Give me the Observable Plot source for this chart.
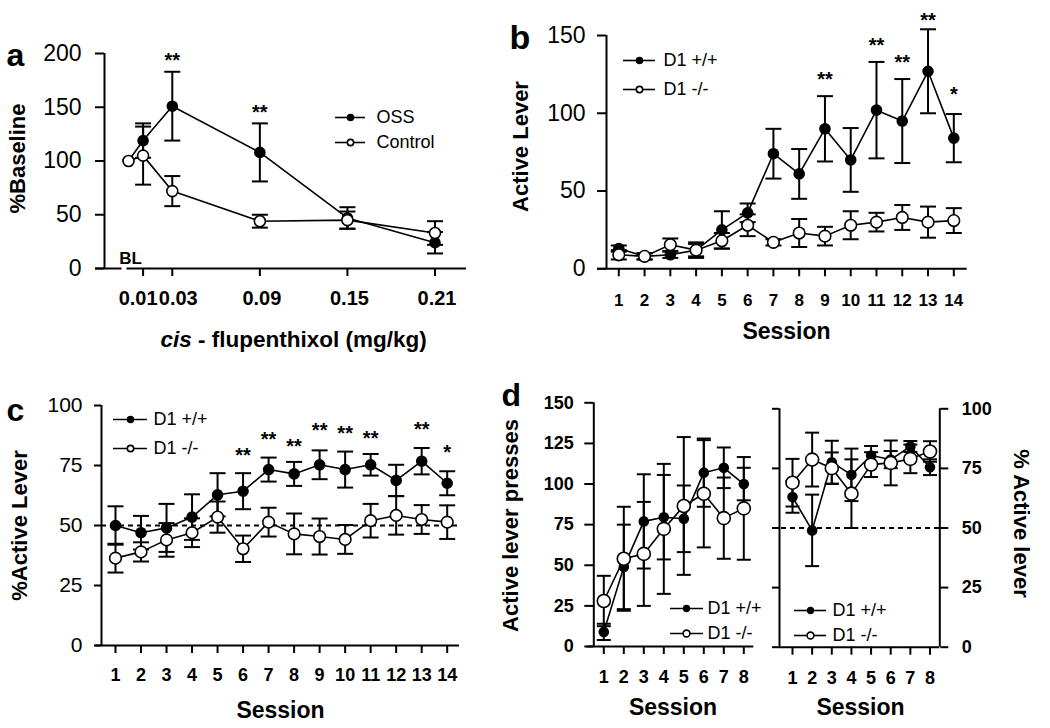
<!DOCTYPE html>
<html><head><meta charset="utf-8">
<script src="https://cdn.jsdelivr.net/npm/d3@7"></script>
<script src="https://cdn.jsdelivr.net/npm/@observablehq/plot@0.6"></script>
<style>
html,body{margin:0;padding:0;background:#fff;}
#fig{position:relative;width:1050px;height:728px;overflow:hidden;background:#fff;}
#fig svg{position:absolute;left:0;top:0;}
</style></head><body><div id="fig"></div>
<script>
// ---------------- data ----------------
// panel a
const doseA = [0, 0.01, 0.03, 0.09, 0.15, 0.21];
const doseTicksA = [0.01, 0.03, 0.09, 0.15, 0.21];
const ossA = [100, 119, 151, 108, 47, 24];
const ossSemA = [0, 16, 32, 27, 10, 10];
const ctrlA = [100, 105, 72, 44, 45, 33];
const ctrlSemA = [0, 27, 14, 6, 8, 11];
const legendA = ["OSS", "Control"];
const starXA = [0.03, 0.09];
const starYA = [198, 150];
const starTextA = ["**", "**"];
const yTicksA = [0, 50, 100, 150, 200];

// panel b
const session14 = [1, 2, 3, 4, 5, 6, 7, 8, 9, 10, 11, 12, 13, 14];
const wtB = [13, 8, 9, 12, 25, 36, 74, 61, 90, 70, 102, 95, 127, 84];
const wtSemB = [2, 2, 2, 5, 12, 6, 16, 16, 21, 20.5, 31, 27, 27, 15.5];
const koB = [9, 8, 15.5, 12, 18, 28, 17, 23, 21, 28, 30, 33, 30, 31];
const koSemB = [3, 2, 4, 4, 5, 7, 2, 9, 6, 9, 6, 8, 10, 8];
const starXB = [9, 11, 12, 13, 14];
const starYB = [125, 147, 136, 163, 115];
const starTextB = ["**", "**", "**", "**", "*"];
const yTicksB = [0, 50, 100, 150];

// panel c
const wtC = [50, 47, 49, 53.5, 62.8, 64.3, 73.3, 71.5, 75.3, 73.3, 75.3, 68.8, 76.8, 67.6];
const wtSemC = [8, 7, 10, 9.5, 9, 7.5, 5, 5, 6, 7.5, 4.5, 6.5, 5.5, 5];
const koC = [36.4, 39, 44, 47, 53.5, 40.3, 51.4, 46.5, 45.4, 44.2, 52, 54.2, 52.5, 51.4];
const koSemC = [6, 4, 7, 6, 6.5, 5.5, 6, 8.5, 7.5, 6, 7, 8, 6, 7];
const starXC = [6, 7, 8, 9, 10, 11, 13, 14];
const starYC = [81.3, 87.8, 85, 91.7, 90.3, 88.2, 92.1, 82.6];
const starTextC = ["**", "**", "**", "**", "**", "**", "**", "*"];
const yTicksC = [0, 25, 50, 75, 100];
const chanceC = 50;

// panel d
const session8 = [1, 2, 3, 4, 5, 6, 7, 8];
const wtDL = [9, 49, 77, 79.6, 78.6, 107, 110, 100];
const wtSemDL = [5, 26, 29, 26, 20.5, 21, 12.5, 10];
const koDL = [28, 54, 57, 72.4, 86.5, 94, 79, 85];
const koSemDL = [15.5, 32, 32, 40, 42.4, 33, 25, 31.6];
const yTicksDL = [0, 25, 50, 75, 100, 125, 150];
const wtDR = [63, 49, 77.6, 72.3, 80.4, 78.7, 84.2, 75.5];
const wtSemDR = [6.6, 15, 9, 11, 4, 3.6, 2.3, 3.3];
const koDR = [69, 78.7, 75.1, 64.4, 76.6, 77.3, 79, 82.1];
const koSemDR = [10, 11.3, 6.6, 14.4, 5.2, 9.4, 6, 4.3];
const yTicksDR = [0, 25, 50, 75, 100];
const chanceDR = 50;
const legendGeno = ["D1 +/+", "D1 -/-"];

// ---------------- drawing ----------------
const W = 1050, H = 728;
const FONT = '"Liberation Sans", Arial, Helvetica, sans-serif';
const capSymbol = {draw(ctx, size) { const w = Math.sqrt(size / Math.PI); ctx.moveTo(-w, 0); ctx.lineTo(w, 0); }};

function rowsOf(xs, mean, sem) { return xs.map((x, i) => ({x, y: mean[i], e: sem[i]})); }
function starsOf(xs, ys, labels) { return xs.map((x, i) => ({x, y: ys[i], label: labels[i]})); }

function buildPanel(p) {
  const sx = d3.scaleLinear(p.xDomain, p.xRange);
  const sy = d3.scaleLinear(p.yDomain, p.yRange);
  const ix = v => sx.invert(v), iy = v => sy.invert(v);
  const marks = [];
  const k = {stroke: "black"};
  const fmt = p.xFormat || (d => String(d));
  // axis lines
  for (const [a, b] of p.xLine) marks.push(Plot.ruleY([p.yDomain[0]], {x1: ix(a), x2: ix(b), ...k, strokeWidth: 2}));
  for (const ax of p.yLines) marks.push(Plot.ruleX([ix(ax)], {y1: p.yDomain[0], y2: p.yDomain[1], ...k, strokeWidth: 2}));
  if (p.dashed) marks.push(Plot.ruleY([p.dashed.value], {x1: ix(p.dashed.from), x2: ix(p.dashed.to), ...k, strokeWidth: 2, strokeDasharray: "5,4"}));
  // axes
  if (p.xLabelDx) {
    marks.push(Plot.axisX({ticks: p.xTicks, tickSize: 8, tickFormat: () => "", label: null, strokeWidth: 2}));
    p.xTicks.forEach((t, i) => marks.push(Plot.text([t], {x: d => d, y: iy(p.xLabelTop), text: d => fmt(d),
      dx: p.xLabelDx[i], lineAnchor: "top", fontSize: p.xFont, fontWeight: "bold"})));
  } else {
    marks.push(Plot.axisX({ticks: p.xTicks, tickSize: 8, tickPadding: p.xPad, tickFormat: fmt,
      fontSize: p.xFont, fontWeight: "bold", label: null, strokeWidth: 2}));
  }
  for (const ya of p.yAxes) marks.push(Plot.axisY({anchor: ya.anchor, ticks: ya.ticks, tickSize: ya.tickSize, tickPadding: ya.pad,
    tickFormat: ya.noText ? (() => "") : (d => String(d)), fontSize: ya.font, fontWeight: ya.weight, label: null, strokeWidth: 2}));
  // series
  const ser = p.series.map(s => ({...s, rows: rowsOf(s.xs, s.mean, s.sem)}));
  for (const s of ser) marks.push(Plot.line(s.rows, {x: "x", y: "y", ...k, strokeWidth: 1.6}));
  for (const s of ser) {
    const er = s.rows.filter(d => d.e > 0);
    marks.push(Plot.ruleX(er, {x: "x", y1: d => d.y - d.e, y2: d => d.y + d.e, ...k, strokeWidth: 2}));
    marks.push(Plot.dot(er, {x: "x", y: d => d.y + d.e, symbol: capSymbol, r: p.cap, ...k, fill: "none", strokeWidth: 2}));
    marks.push(Plot.dot(er, {x: "x", y: d => d.y - d.e, symbol: capSymbol, r: p.cap, ...k, fill: "none", strokeWidth: 2}));
  }
  for (const s of [...ser].sort((a, b) => (b.filled ? 1 : 0) - (a.filled ? 1 : 0)))
    marks.push(Plot.dot(s.rows, {x: "x", y: "y", r: s.filled ? p.rF : p.rO, fill: s.filled ? "black" : "white", ...k, strokeWidth: 1.6}));
  // stars
  if (p.stars) marks.push(Plot.text(p.stars, {x: "x", y: "y", text: "label", fontSize: 20, fontWeight: "bold", dy: 5}));
  // legend
  if (p.legend) {
    const L = p.legend;
    const lrows = L.labels.map((label, i) => ({label, y: iy(L.rows[i]), filled: i === 0}));
    marks.push(Plot.ruleY(lrows, {y: "y", x1: ix(L.line[0]), x2: ix(L.line[1]), ...k, strokeWidth: 1.6}));
    marks.push(Plot.dot(lrows, {x: ix(L.marker), y: "y", r: d => d.filled ? p.rF : p.rO, fill: d => d.filled ? "black" : "white", ...k, strokeWidth: 1.6}));
    marks.push(Plot.text(lrows, {x: ix(L.text), y: "y", text: "label", textAnchor: "start", fontSize: 18}));
  }
  // titles and panel letter
  for (const t of p.texts) marks.push(Plot.text([t], {x: ix(t.x), y: iy(t.y), text: d => d.text, rotate: t.rotate || 0,
    textAnchor: t.anchor || "middle", fontSize: t.size, fontWeight: "bold", fontStyle: t.italic ? "italic" : "normal"}));

  return Plot.plot({
    width: W, height: H,
    marginLeft: p.leftPx, marginRight: W - p.rightPx, marginTop: 20, marginBottom: H - p.bottomPx,
    x: {type: "linear", domain: p.xDomain, range: p.xRange},
    y: {type: "linear", domain: p.yDomain, range: p.yRange},
    style: {background: "transparent", overflow: "visible", fontFamily: FONT, color: "black"},
    marks
  });
}

// text drawn with middle line anchor: centre = baseline - 0.32em
const mid = (baseline, size) => baseline - 0.32 * size;

const panels = [
  { // a
    xDomain: [0, 0.21], xRange: [128, 434.5], yDomain: [0, 200], yRange: [268, 53],
    leftPx: 104, rightPx: 466, bottomPx: 268,
    xLine: [[95, 121.5], [126.5, 466]], yLines: [104],
    xTicks: doseTicksA, xFont: 20, xFormat: d3.format(".2f"),
    xLabelDx: [-5, 6, 2, 2, 2], xLabelTop: 290,
    yAxes: [{anchor: "left", ticks: yTicksA, tickSize: 9, pad: 14, font: 23, weight: "normal"}],
    series: [{xs: doseA, mean: ctrlA, sem: ctrlSemA, filled: false}, {xs: doseA, mean: ossA, sem: ossSemA, filled: true}],
    rF: 5, rO: 5.5, cap: 8,
    stars: starsOf(starXA, starYA, starTextA),
    legend: {labels: legendA, rows: [117, 142], line: [335, 365], marker: 350, text: 376},
    texts: [
      {text: "%Baseline", x: 17, y: 158, rotate: -90, size: 22},
      {text: "cis", x: 160, y: mid(346, 22.5), size: 22.5, anchor: "start", italic: true},
      {text: " - flupenthixol (mg/kg)", x: 191.3, y: mid(346, 22.5), size: 22.5, anchor: "start"},
      {text: "BL", x: 130, y: mid(263, 17), size: 17},
      {text: "a", x: 6, y: mid(65, 32), size: 32, anchor: "start"}
    ]
  },
  { // b
    xDomain: [1, 14], xRange: [618.3, 953.3], yDomain: [0, 150], yRange: [268.3, 35],
    leftPx: 606, rightPx: 967, bottomPx: 268.3,
    xLine: [[597, 966.7]], yLines: [606],
    xTicks: session14, xPad: 17, xFont: 17,
    yAxes: [{anchor: "left", ticks: yTicksB, tickSize: 9, pad: 12, font: 23, weight: "normal"}],
    series: [{xs: session14, mean: koB, sem: koSemB, filled: false}, {xs: session14, mean: wtB, sem: wtSemB, filled: true}],
    rF: 5, rO: 5.8, cap: 8,
    stars: starsOf(starXB, starYB, starTextB),
    legend: {labels: legendGeno, rows: [60, 89], line: [623, 655], marker: 639, text: 663},
    texts: [
      {text: "Active Lever", x: 520, y: 146, rotate: -90, size: 22},
      {text: "Session", x: 786, y: mid(338, 23), size: 23},
      {text: "b", x: 509, y: mid(48, 34), size: 34, anchor: "start"}
    ]
  },
  { // c
    xDomain: [1, 14], xRange: [115, 446.7], yDomain: [0, 100], yRange: [645, 405],
    leftPx: 101, rightPx: 459, bottomPx: 645,
    xLine: [[95, 459]], yLines: [101],
    dashed: {value: chanceC, from: 101, to: 459},
    xTicks: session14, xPad: 15, xFont: 18,
    yAxes: [{anchor: "left", ticks: yTicksC, tickSize: 7, pad: 12, font: 21, weight: "normal"}],
    series: [{xs: session14, mean: koC, sem: koSemC, filled: false}, {xs: session14, mean: wtC, sem: wtSemC, filled: true}],
    rF: 5, rO: 5.8, cap: 8,
    stars: starsOf(starXC, starYC, starTextC),
    legend: {labels: legendGeno, rows: [419, 448], line: [113, 147], marker: 130, text: 153},
    texts: [
      {text: "%Active Lever", x: 19, y: 525, rotate: -90, size: 22},
      {text: "Session", x: 280, y: mid(717, 23), size: 23},
      {text: "c", x: 6, y: mid(420, 32), size: 32, anchor: "start"}
    ]
  },
  { // d left
    xDomain: [1, 8], xRange: [603.3, 743.3], yDomain: [0, 150], yRange: [646, 402.3],
    leftPx: 593.3, rightPx: 753.3, bottomPx: 646,
    xLine: [[586.7, 753.3]], yLines: [593.3],
    xTicks: session8, xPad: 16, xFont: 18,
    yAxes: [{anchor: "left", ticks: yTicksDL, tickSize: 9, pad: 11, font: 18, weight: "bold"}],
    series: [{xs: session8, mean: koDL, sem: koSemDL, filled: false}, {xs: session8, mean: wtDL, sem: wtSemDL, filled: true}],
    rF: 4.5, rO: 6.5, cap: 7,
    legend: {labels: legendGeno, rows: [608, 633], line: [670, 703], marker: 686, text: 707},
    texts: [
      {text: "Active lever presses", x: 510, y: 525, rotate: -90, size: 22},
      {text: "Session", x: 672.5, y: mid(714, 23), size: 23},
      {text: "d", x: 501, y: mid(405, 32), size: 32, anchor: "start"}
    ]
  },
  { // d right
    xDomain: [1, 8], xRange: [792, 929.5], yDomain: [0, 100], yRange: [646.7, 408.3],
    leftPx: 779, rightPx: 939.3, bottomPx: 646.7,
    xLine: [[779, 939.3]], yLines: [779, 939.3],
    dashed: {value: chanceDR, from: 772, to: 939.3},
    xTicks: session8, xPad: 16, xFont: 18,
    yAxes: [
      {anchor: "left", ticks: yTicksDR, tickSize: 7, pad: 0, font: 18, weight: "bold", noText: true},
      {anchor: "right", ticks: yTicksDR, tickSize: 8, pad: 14, font: 18, weight: "bold"}
    ],
    series: [{xs: session8, mean: koDR, sem: koSemDR, filled: false}, {xs: session8, mean: wtDR, sem: wtSemDR, filled: true}],
    rF: 4.5, rO: 6.5, cap: 7,
    legend: {labels: legendGeno, rows: [610, 635], line: [794, 826], marker: 810, text: 832},
    texts: [
      {text: "% Active lever", x: 1021, y: 523, rotate: 90, size: 22},
      {text: "Session", x: 860, y: mid(714, 23), size: 23}
    ]
  }
];

const fig = document.getElementById("fig");
for (const p of panels) fig.appendChild(buildPanel(p));
</script>
</body></html>
